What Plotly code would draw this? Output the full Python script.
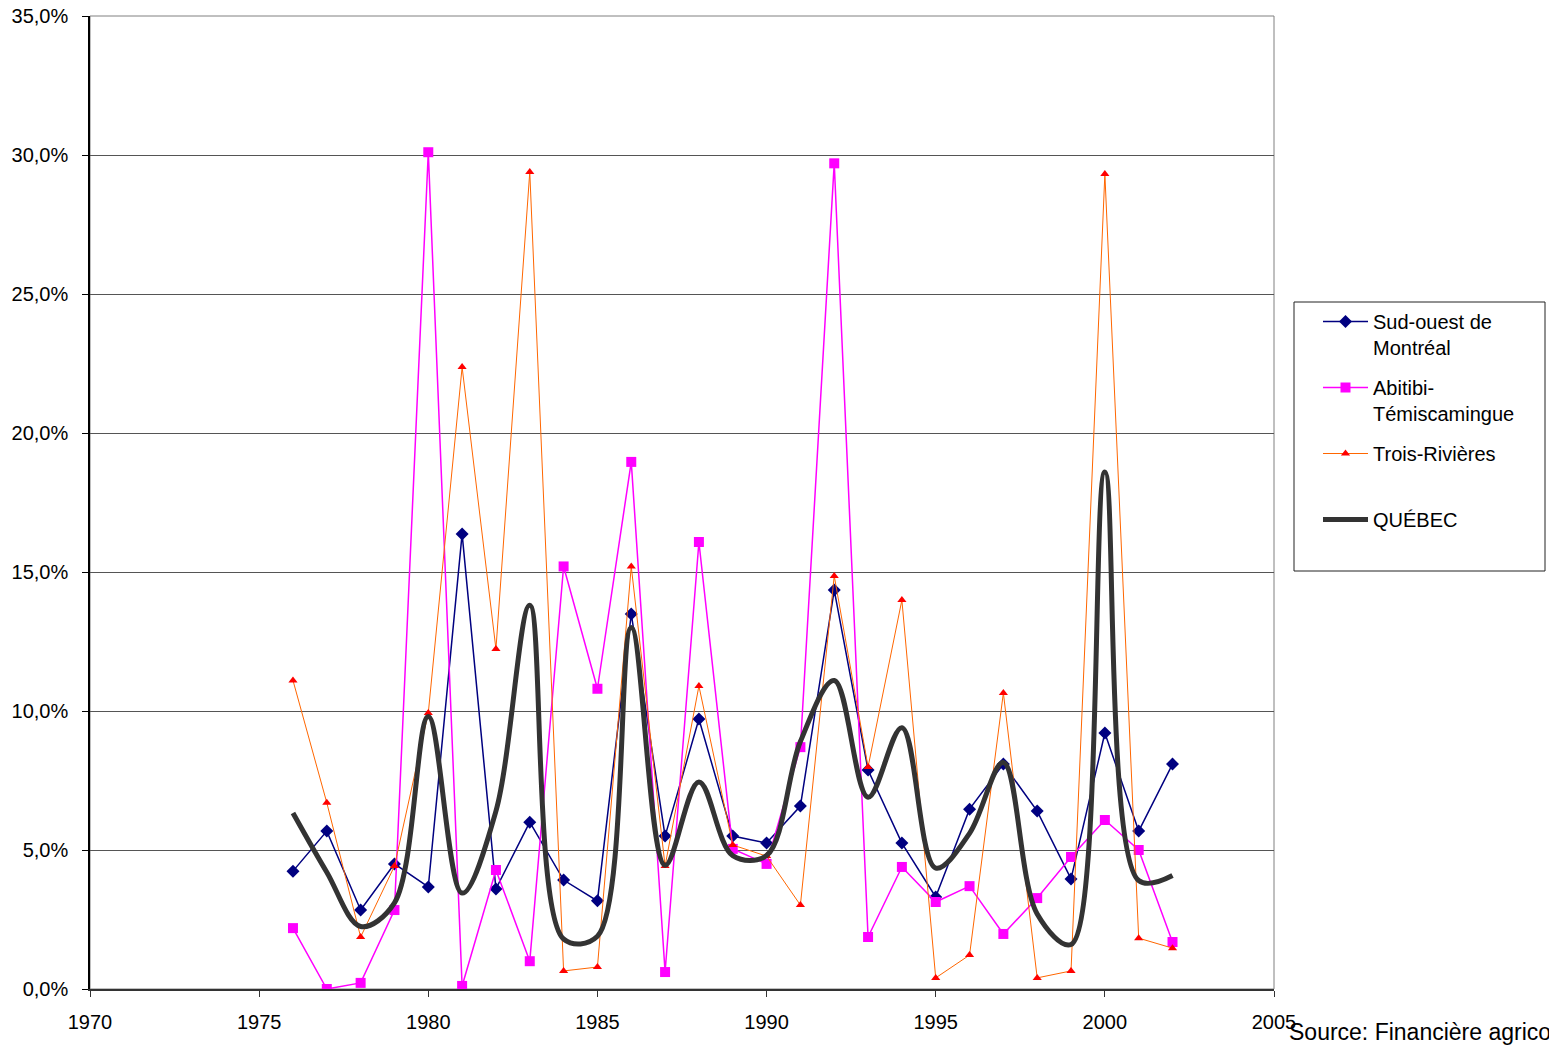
import plotly.graph_objects as go

# Years covered by the series
years = list(range(1976, 2003))

# Rates (%) by region
sud_ouest = [4.24, 5.68, 2.84, 4.50, 3.67, 16.37, 3.60, 6.00, 3.92, 3.17,
             13.49, 5.50, 9.71, 5.50, 5.25, 6.58, 14.35, 7.88, 5.25, 3.31,
             6.47, 8.09, 6.40, 3.96, 9.21, 5.68, 8.09]
abitibi = [2.19, 0.00, 0.22, 2.84, 30.10, 0.11, 4.28, 1.00, 15.20, 10.80,
           18.96, 0.61, 16.08, 5.04, 4.50, 8.70, 29.70, 1.87, 4.39, 3.13,
           3.70, 1.98, 3.27, 4.75, 6.08, 5.00, 1.69]
trois_rivieres = [11.10, 6.70, 1.87, 4.42, 9.93, 22.37, 12.23, 29.39, 0.65, 0.79,
                  15.20, 4.42, 10.90, 5.18, 4.78, 3.02, 14.86, 7.99, 13.99, 0.40,
                  1.22, 10.65, 0.40, 0.65, 29.32, 1.83, 1.47]
quebec = [6.33, 4.20, 2.25, 3.10, 9.80, 3.45, 6.40, 13.80, 1.80, 1.90,
          13.00, 4.45, 7.45, 4.80, 4.80, 8.90, 11.10, 6.90, 9.40, 4.35,
          5.60, 8.15, 2.70, 1.60, 18.60, 3.90, 4.08]

# Axis ticks
x_ticks = [1970, 1975, 1980, 1985, 1990, 1995, 2000, 2005]
y_ticks = [0, 5, 10, 15, 20, 25, 30, 35]
y_tick_labels = ["0,0%", "5,0%", "10,0%", "15,0%", "20,0%", "25,0%", "30,0%", "35,0%"]

FONT = "Liberation Sans, Arial, sans-serif"

fig = go.Figure()

fig.add_trace(go.Scatter(
    x=years, y=sud_ouest, name="Sud-ouest de<br>Montréal", legendgroup="a",
    mode="lines+markers",
    line=dict(color="#000080", width=1.5),
    marker=dict(symbol="diamond", size=10, color="#000080"),
))
fig.add_trace(go.Scatter(
    x=years, y=abitibi, name="Abitibi-<br>Témiscamingue", legendgroup="b",
    mode="lines+markers",
    line=dict(color="#FF00FF", width=1.5),
    marker=dict(symbol="square", size=10, color="#FF00FF"),
))
fig.add_trace(go.Scatter(
    x=years, y=trois_rivieres, name="Trois-Rivières<br> ", legendgroup="c",
    mode="lines+markers",
    line=dict(color="#FF6600", width=1),
    marker=dict(symbol="triangle-up", size=8, color="#FF0000"),
))
fig.add_trace(go.Scatter(
    x=years, y=quebec, name="QUÉBEC", legendgroup="d",
    mode="lines",
    line=dict(color="#333333", width=5, shape="spline", smoothing=1),
))

# Plot-area frame and legend box
fig.add_shape(type="rect", xref="paper", yref="paper", x0=0, y0=0, x1=1, y1=1,
              line=dict(color="#808080", width=1), layer="below")
fig.add_shape(type="rect", xref="paper", yref="paper",
              x0=(1294 - 90) / 1184, x1=(1545 - 90) / 1184,
              y0=(989 - 571) / 973, y1=(989 - 302) / 973,
              line=dict(color="#222222", width=1), layer="below")

fig.add_annotation(
    text="Source: Financière agricole du Québec", xref="paper", yref="paper",
    x=(1287 - 90) / 1184, y=(989 - 1032) / 973, xanchor="left", yanchor="middle",
    showarrow=False, font=dict(family=FONT, size=23, color="#000000"),
)

fig.update_layout(
    width=1549, height=1045,
    margin=dict(l=90, r=275, t=16, b=56, autoexpand=False),
    paper_bgcolor="white", plot_bgcolor="white",
    font=dict(family=FONT, size=20, color="#000000"),
    showlegend=True,
    legend=dict(
        x=(1318 - 90) / 1184, y=(989 - 302) / 973, xanchor="left", yanchor="top",
        bgcolor="rgba(0,0,0,0)", borderwidth=0,
        font=dict(family=FONT, size=20, color="#000000"),
        traceorder="grouped", tracegroupgap=11, valign="top",
        itemwidth=45,
    ),
    xaxis=dict(
        range=[1970, 2005], tickvals=x_ticks, ticktext=[str(v) for v in x_ticks],
        showgrid=False, zeroline=False, automargin=False,
        showline=True, linecolor="#333333", linewidth=1.5,
        ticks="outside", ticklen=6, tickcolor="#333333", ticklabelstandoff=8,
        tickfont=dict(family=FONT, size=20),
    ),
    yaxis=dict(
        range=[0, 35], tickvals=y_ticks, ticktext=y_tick_labels,
        showgrid=True, gridcolor="#555555", gridwidth=1, zeroline=False,
        automargin=False,
        showline=True, linecolor="#000000", linewidth=1.5,
        ticks="outside", ticklen=6, tickcolor="#000000", ticklabelstandoff=10,
        tickfont=dict(family=FONT, size=20),
    ),
)

fig.write_html("out.html")
